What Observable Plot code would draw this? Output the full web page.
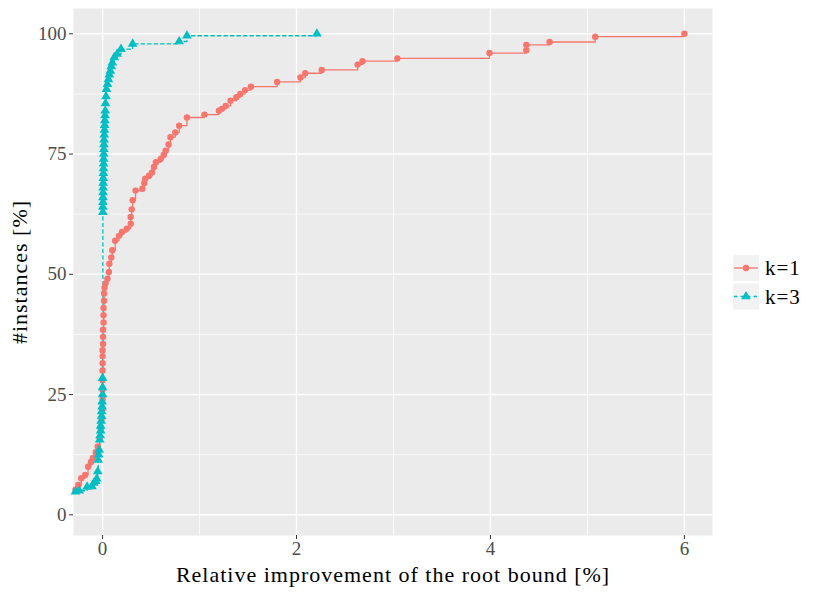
<!DOCTYPE html>
<html><head><meta charset="utf-8">
<script src="https://cdn.jsdelivr.net/npm/d3@7"></script>
<script src="https://cdn.jsdelivr.net/npm/@observablehq/plot@0.6"></script>
<style>
body{margin:0;background:#fff;}
#wrap{position:relative;width:830px;height:593px;overflow:hidden;}
#legend{position:absolute;left:733px;top:255px;}
</style></head><body>
<div id="wrap"><div id="chart"></div><div id="legend"></div></div>
<script>
const seriesNames = ["k=1", "k=3"];
const seriesColors = ["#F8766D", "#00BFC4"];

const k1X = [-0.28,-0.25,-0.22,-0.18,-0.15,-0.12,-0.10,-0.07,-0.05,-0.03,
  -0.02,-0.01,0,0,0,0,0,0,0,0,
  0.005,0.005,0.005,0.01,0.01,0.01,0.015,0.015,0.02,0.03,
  0.05,0.065,0.07,0.09,0.10,0.13,0.17,0.20,0.25,0.29,
  0.29,0.30,0.31,0.34,0.41,0.43,0.44,0.48,0.51,0.53,
  0.55,0.60,0.63,0.65,0.68,0.70,0.75,0.79,0.87,1.05,
  1.20,1.23,1.27,1.32,1.38,1.42,1.47,1.53,1.80,2.04,
  2.09,2.26,2.63,2.68,3.04,3.99,4.37,4.37,4.61,5.08,
  6.00];
const k1Y = [5.2,6.2,7.6,8.3,10.0,11.0,11.8,13.0,14.2,16.0,
  18,20,22,24,26,28,30,31.5,33,34.2,
  35.5,37,38.5,40,41.5,43,44.5,46,47.2,48.1,
  49.1,50.5,52.2,53.5,55,57,58,58.8,59.5,60.5,
  61.9,63.5,65.4,67.4,67.8,69,69.9,70.5,71.2,72.3,
  73.3,74,74.8,75.7,77,78.5,79.5,80.9,82.6,83.2,
  84,84.4,85,86.1,86.8,87.5,88.3,89,90,90.9,
  91.8,92.5,93.6,94.3,94.9,96,96.6,97.7,98.3,99.4,
  100];

const k3X = [-0.28,-0.24,-0.16,-0.11,-0.09,-0.07,-0.06,-0.05,-0.045,-0.04,
  -0.035,-0.03,-0.025,-0.02,-0.02,-0.015,-0.01,-0.01,-0.005,-0.005,
  0,0,0,
  0.003,0.003,0.004,0.004,0.005,0.005,0.006,0.007,0.008,0.009,
  0.01,0.011,0.012,0.013,0.014,0.015,0.017,0.019,0.021,0.023,
  0.025,0.027,0.03,0.035,0.04,0.05,0.06,0.07,0.08,0.09,
  0.10,0.12,0.15,0.19,0.31,0.79,0.87,2.21];
const k3Y = [4.8,5.0,5.8,5.9,6.6,7.0,7.5,9.0,11.4,12.5,
  13.5,15.6,16.5,17.5,18.5,19.5,20.5,21.5,22.5,23.5,
  25,26.5,28.4,
  62.9,64,65,66,67,68,69,70,71,72,
  73,74,75,76,77,78,79,80,81,82,
  83,84,85.5,87,88.5,89.5,90.5,91.5,92.3,93.2,
  94,95.1,95.8,96.8,97.9,98.4,99.6,100];

const xMajor = [0, 2, 4, 6];
const xMinor = [1, 3, 5];
const yMajor = [0, 25, 50, 75, 100];
const yMinor = [12.5, 37.5, 62.5, 87.5];

const k1 = k1X.map((x, i) => ({x, y: k1Y[i]}));
const k3 = k3X.map((x, i) => ({x, y: k3Y[i]}));

const font = "'Liberation Serif', serif";

const svg = Plot.plot({
  width: 830, height: 593,
  marginLeft: 73, marginRight: 118, marginTop: 8, marginBottom: 58,
  style: {fontFamily: font, fontSize: "19px", background: "white"},
  x: {domain: [-0.3, 6.29]},
  y: {domain: [-4.3, 105.26]},
  marks: [
    Plot.frame({fill: "#ebebeb", stroke: null}),
    Plot.gridX(xMinor, {stroke: "white", strokeOpacity: 1, strokeWidth: 0.7}),
    Plot.gridY(yMinor, {stroke: "white", strokeOpacity: 1, strokeWidth: 0.7}),
    Plot.gridX(xMajor, {stroke: "white", strokeOpacity: 1, strokeWidth: 1.4}),
    Plot.gridY(yMajor, {stroke: "white", strokeOpacity: 1, strokeWidth: 1.4}),
    Plot.axisX(xMajor, {tickSize: 4, tickPadding: 2, fill: "#4d4d4d", stroke: "#333",
      label: "Relative improvement of the root bound [%]", labelAnchor: "center", labelArrow: "none", labelOffset: 46}),
    Plot.axisY(yMajor, {tickSize: 4, tickPadding: 3, fill: "#4d4d4d", stroke: "#333",
      label: "#instances [%]", labelAnchor: "center", labelArrow: "none", labelOffset: 62}),
    Plot.line(k1, {x: "x", y: "y", curve: "step-after", stroke: seriesColors[0], strokeWidth: 1.3}),
    Plot.line(k3, {x: "x", y: "y", curve: "step-after", stroke: seriesColors[1], strokeWidth: 1.3, strokeDasharray: "3.5,3"}),
    Plot.dot(k1, {x: "x", y: "y", r: 3.2, fill: seriesColors[0], symbol: "circle"}),
    Plot.dot(k3, {x: "x", y: "y", r: 3.6, fill: seriesColors[1], symbol: "triangle"})
  ]
});
d3.select(svg).selectAll('g[aria-label="x-axis label"], g[aria-label="y-axis label"]')
  .attr("fill", "black").style("font-size", "22px").style("letter-spacing", "1px");
document.getElementById("chart").appendChild(svg);

// legend
const lg = d3.select("#legend").append("svg").attr("width", 97).attr("height", 56)
  .style("font-family", font).style("font-size", "21px").style("letter-spacing", "1px");
seriesNames.forEach((name, i) => {
  const g = lg.append("g").attr("transform", `translate(0,${i * 28.5})`);
  g.append("rect").attr("width", 26).attr("height", 26).attr("fill", "#f2f2f2");
  g.append("line").attr("x1", 1).attr("x2", 25).attr("y1", 13).attr("y2", 13)
    .attr("stroke", seriesColors[i]).attr("stroke-width", 1.3)
    .attr("stroke-dasharray", i === 1 ? "3.5,3" : null);
  if (i === 0) g.append("circle").attr("cx", 13).attr("cy", 13).attr("r", 3.2).attr("fill", seriesColors[i]);
  else g.append("path").attr("d", d3.symbol(d3.symbolTriangle, 40)()).attr("transform", "translate(13,13)").attr("fill", seriesColors[i]);
  g.append("text").attr("x", 32).attr("y", 13).attr("dy", "0.35em").attr("fill", "black").text(name);
});
</script>
</body></html>
